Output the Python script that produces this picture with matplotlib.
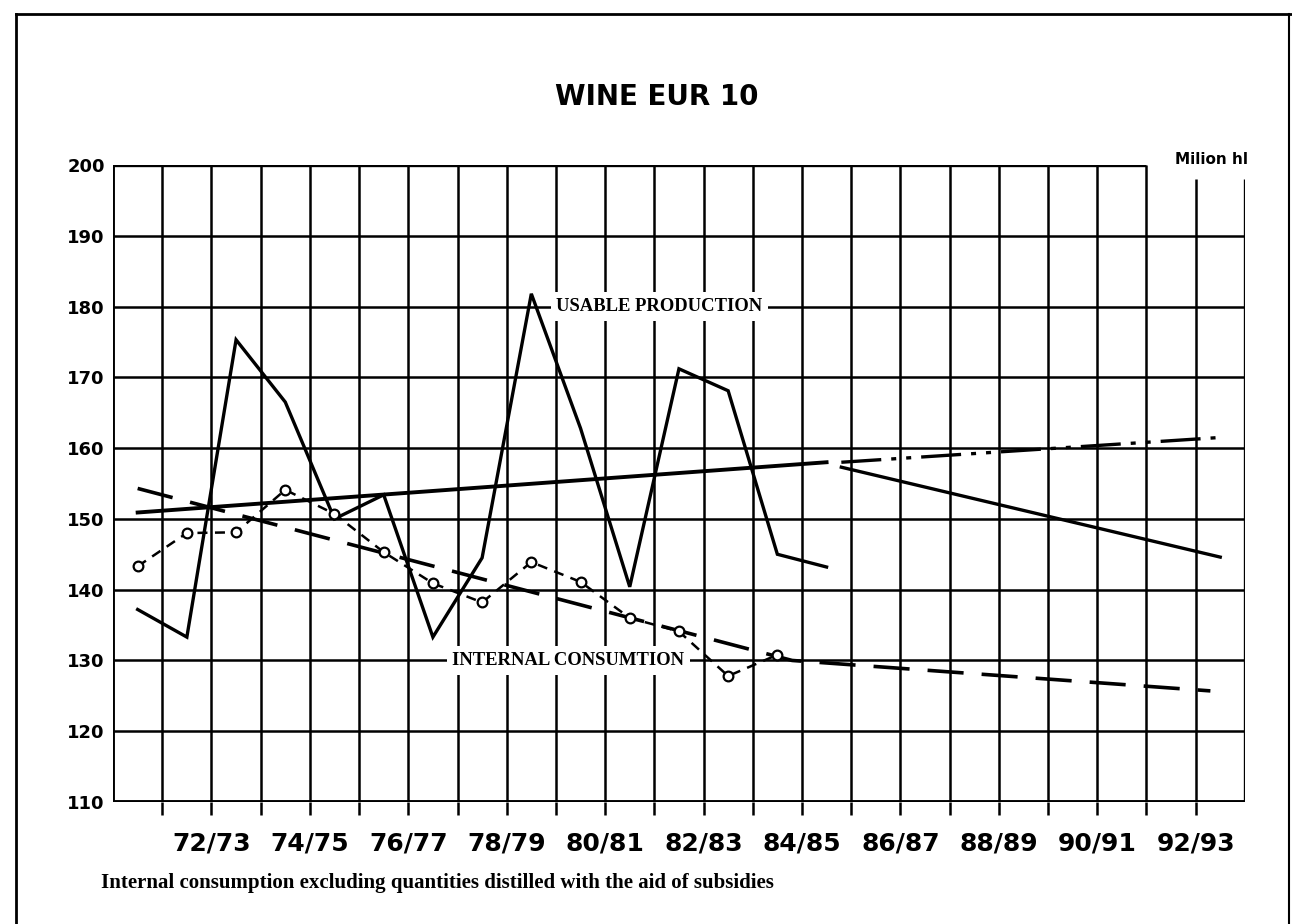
import numpy as np
import matplotlib
matplotlib.use('Agg')
import matplotlib.pyplot as plt
from matplotlib.lines import Line2D

# ==========================================
# data (Mio hl)
# ==========================================
# seasons on the x axis, one grid column per season
seasons = ['70/71', '71/72', '72/73', '73/74', '74/75', '75/76', '76/77', '77/78',
           '78/79', '79/80', '80/81', '81/82', '82/83', '83/84', '84/85', '85/86',
           '86/87', '87/88', '88/89', '89/90', '90/91', '91/92', '92/93', '93/94']
labelled_seasons = ['72/73', '74/75', '76/77', '78/79', '80/81', '82/83',
                    '84/85', '86/87', '88/89', '90/91', '92/93']

# usable production, one value per season (plotted mid-column)
prod_seasons = ['70/71', '71/72', '72/73', '73/74', '74/75', '75/76', '76/77', '77/78',
                '78/79', '79/80', '80/81', '81/82', '82/83', '83/84', '84/85']
prod_values = [137.2, 133.3, 175.3, 166.5, 150.0, 153.4, 133.3, 144.5,
               181.8, 162.8, 140.4, 171.2, 168.1, 145.0, 143.2]

# internal consumption
cons_seasons = ['70/71', '71/72', '72/73', '73/74', '74/75', '75/76', '76/77',
                '77/78', '78/79', '79/80', '80/81', '81/82', '82/83', '83/84']
cons_values = [143.3, 148.0, 148.1, 154.1, 150.7, 145.3, 140.9,
               138.2, 143.9, 141.1, 136.0, 134.1, 127.8, 130.8]

# trend lines (x in season-column units, y in Mio hl)
prod_trend_x = [0.5, 14.5]
prod_trend_y = [150.9, 158.0]
prod_proj_up_x = [14.8, 22.5]
prod_proj_up_y = [158.0, 161.5]
prod_proj_down_x = [14.8, 22.5]
prod_proj_down_y = [157.3, 144.6]
cons_trend_x = [0.5, 13.8, 22.3]
cons_trend_y = [154.3, 130.0, 125.7]

y_ticks = [110, 120, 130, 140, 150, 160, 170, 180, 190, 200]


def season_pos(s, mid=False):
    i = seasons.index(s)
    return i + 0.5 if mid else i


def plot_wine():
    fig = plt.figure(figsize=(12.92, 9.24), dpi=100)
    ax = fig.add_axes([0.0875, 0.132, 0.876, 0.6895])
    ax.set_xlim(0, 23)
    ax.set_ylim(110, 200)

    ink = 'black'
    grid_lw = 1.8

    # --- frame and grid drawn by hand (top right corner is left open) ---
    for s in ax.spines.values():
        s.set_visible(False)
    ax.axvline(0, color=ink, lw=2.8, zorder=2)
    ax.axhline(110, color=ink, lw=2.8, zorder=2)
    ax.hlines(200, 0, 21, color=ink, lw=2.4, zorder=2)
    ax.hlines(y_ticks[1:-1], 0, 23, color=ink, lw=grid_lw, zorder=1)
    ax.vlines(range(1, 22), 110, 200, color=ink, lw=grid_lw, zorder=1)
    ax.vlines([22], 110, 198, color=ink, lw=grid_lw, zorder=1)
    ax.vlines([23], 110, 198, color=ink, lw=2.4, zorder=2)

    # ticks
    ax.set_xticks(range(1, 23))
    ax.set_xticklabels([s if s in labelled_seasons else '' for s in seasons[1:23]],
                       fontsize=18, fontweight='bold', family='DejaVu Sans')
    ax.tick_params(axis='x', length=9, width=grid_lw, pad=12, color=ink)
    ax.set_yticks(y_ticks)
    ax.set_yticklabels([str(v) for v in y_ticks], fontsize=13, fontweight='bold')
    ax.tick_params(axis='y', length=0, pad=6)

    # --- series ---
    px = [season_pos(s, mid=True) for s in prod_seasons]
    ax.plot(px, prod_values, color=ink, lw=2.4, solid_joinstyle='miter', zorder=5)

    cx = [season_pos(s, mid=True) for s in cons_seasons]
    ax.plot(cx, cons_values, color=ink, lw=1.8, linestyle=(0, (4, 3)),
            marker='o', markersize=7, markerfacecolor='white',
            markeredgecolor=ink, markeredgewidth=1.6, zorder=6)

    ax.plot(prod_trend_x, prod_trend_y, color=ink, lw=2.8, zorder=4)
    ax.plot(prod_proj_up_x, prod_proj_up_y, color=ink, lw=2.4,
            linestyle=(0, (12, 3, 1.5, 3, 1.5, 3)), zorder=4)
    ax.plot(prod_proj_down_x, prod_proj_down_y, color=ink, lw=2.4, zorder=4)
    ax.plot(cons_trend_x, cons_trend_y, color=ink, lw=2.6,
            linestyle=(0, (10, 5)), zorder=4)

    # --- in-chart labels ---
    lab_font = dict(family='Liberation Serif', fontweight='bold', fontsize=13.4,
                    ha='center', va='center', zorder=3,
                    bbox=dict(facecolor='white', edgecolor='none', pad=4))
    ax.text(11.1, 180, 'USABLE PRODUCTION', **lab_font)
    ax.text(9.25, 130, 'INTERNAL CONSUMTION', **lab_font)

    # --- titles / notes ---
    fig.text(0.508, 0.895, 'WINE EUR 10', fontsize=20, fontweight='bold',
             ha='center', va='center')
    fig.text(0.938, 0.827, 'Milion hl', fontsize=11, fontweight='bold',
             ha='center', va='center')
    fig.text(0.078, 0.044,
             'Internal consumption excluding quantities distilled with the aid of subsidies',
             family='Liberation Serif', fontweight='bold', fontsize=15,
             ha='left', va='center')

    # page frame of the scanned sheet
    fig.add_artist(Line2D([0.012, 0.012], [0.0, 0.985], transform=fig.transFigure,
                          color=ink, lw=2))
    fig.add_artist(Line2D([0.012, 1.0], [0.985, 0.985], transform=fig.transFigure,
                          color=ink, lw=2))
    fig.add_artist(Line2D([0.998, 0.998], [0.0, 0.985], transform=fig.transFigure,
                          color=ink, lw=1.5))

    fig.savefig('out.png', dpi=100, facecolor='white')


plot_wine()
